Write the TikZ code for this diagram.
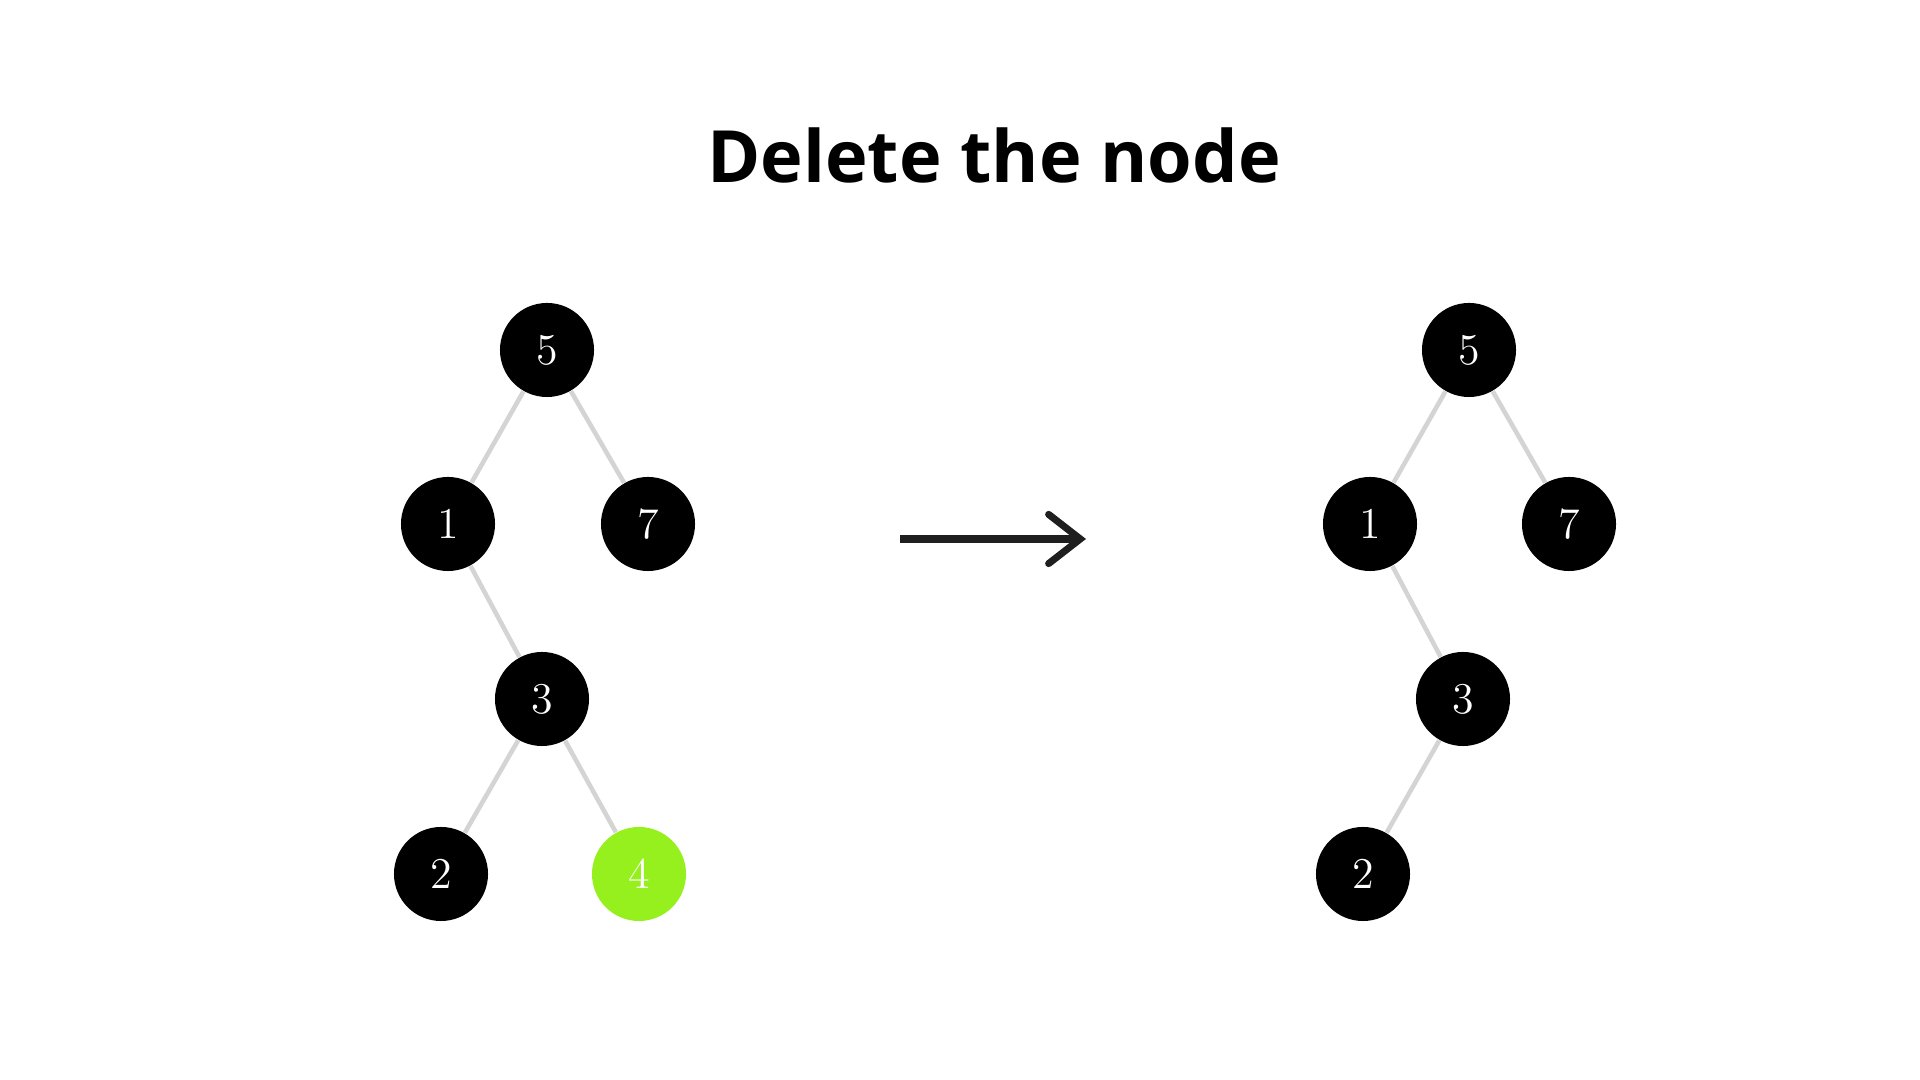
\documentclass[tikz,border=0pt]{standalone}
\usepackage{fontspec}
\newfontfamily\titlefont{Open Sans}
\usepackage{tikz}
\usetikzlibrary{arrows.meta}
\definecolor{lime}{RGB}{150,240,30}
\definecolor{edgegray}{RGB}{212,212,212}

\begin{document}
\begin{tikzpicture}[x=0.01cm, y=-0.01cm,
  vtx/.style={circle, fill=black, text=white, minimum size=0.94cm, inner sep=0pt, font=\fontsize{12.5}{15}\selectfont},
  gone/.style={vtx, fill=lime},
  edge/.style={draw=edgegray, line width=1.3pt}]
  \useasboundingbox (0,0) rectangle (1920,1080);
  \node (title) at (994,155) {\titlefont\bfseries\fontsize{20.5}{24}\selectfont Delete the node};

  % before
  \node[vtx] (a5) at (547,350) {5};
  \node[vtx] (a1) at (448,524) {1};
  \node[vtx] (a7) at (648,524) {7};
  \node[vtx] (a3) at (542,699) {3};
  \node[vtx] (a2) at (441,874) {2};
  \node[gone] (a4) at (639,874) {4};
  \draw[edge](a5)--(a1);
  \draw[edge](a5)--(a7);
  \draw[edge](a1)--(a3);
  \draw[edge](a3)--(a2);
  \draw[edge](a3)--(a4);

  \coordinate (from) at (900,539);
  \coordinate (to) at (1086,539);
  \draw[-{Straight Barb[length=9pt,width=14pt,line cap=round]}, line width=2pt, color=black!88] (from)--(to);

  % after
  \node[vtx] (b5) at (1469,350) {5};
  \node[vtx] (b1) at (1370,524) {1};
  \node[vtx] (b7) at (1569,524) {7};
  \node[vtx] (b3) at (1463,699) {3};
  \node[vtx] (b2) at (1363,874) {2};
  \draw[edge](b5)--(b1);
  \draw[edge](b5)--(b7);
  \draw[edge](b1)--(b3);
  \draw[edge](b3)--(b2);
\end{tikzpicture}
\end{document}
